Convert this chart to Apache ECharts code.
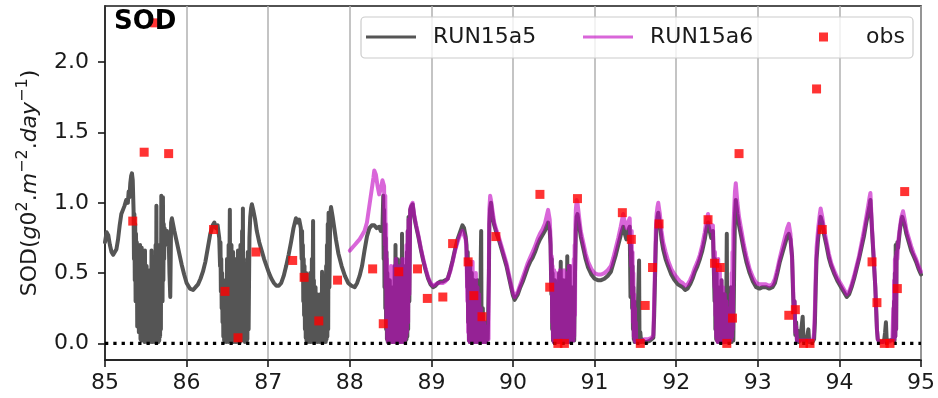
<!DOCTYPE html>
<html>
<head>
<meta charset="utf-8">
<script src="https://cdn.jsdelivr.net/npm/echarts@6/dist/echarts.min.js"></script>
<style>
  html, body { margin: 0; padding: 0; background: #ffffff; }
  #chart { width: 938px; height: 398px; }
</style>
</head>
<body>
<div id="chart"></div>
<script>
// Axis ticks
const xTicks = [85, 86, 87, 88, 89, 90, 91, 92, 93, 94, 95];
const yTicks = [0, 0.5, 1.0, 1.5, 2.0];

// Simulated sediment oxygen demand, run RUN15a5 [decimal year, value]
const run15a5 = [
  [85.00,0.72],[85.02,0.79],[85.04,0.77],[85.06,0.70],[85.08,0.65],[85.10,0.63],[85.12,0.64],[85.14,0.67],[85.16,0.74],[85.18,0.84],[85.20,0.92],[85.22,0.95],[85.24,0.98],[85.26,1.02],[85.28,1.00],[85.29,1.08],[85.30,1.04],[85.31,1.14],[85.32,1.19],[85.33,1.21],[85.34,1.16],
  [85.35,0.95],[85.355,0.60],[85.36,0.92],[85.365,0.45],[85.37,0.85],[85.375,0.30],[85.38,0.78],[85.385,0.35],[85.39,0.72],[85.395,0.12],[85.40,0.70],[85.405,0.25],[85.41,0.68],[85.415,0.08],[85.42,0.66],[85.425,0.15],[85.43,0.70],[85.435,0.03],[85.44,0.58],[85.445,0.02],[85.45,0.68],[85.455,0.05],[85.46,0.45],[85.465,0.02],[85.47,0.62],[85.475,0.03],[85.48,0.50],[85.485,0.01],[85.49,0.66],[85.495,0.04],[85.50,0.40],[85.505,0.02],[85.51,0.55],[85.515,0.01],[85.52,0.35],[85.525,0.02],[85.53,0.48],[85.535,0.03],[85.54,0.30],[85.545,0.01],[85.55,0.52],[85.555,0.02],[85.56,0.40],[85.565,0.01],[85.57,0.66],[85.575,0.03],[85.58,0.38],[85.585,0.01],[85.59,0.55],[85.595,0.02],[85.60,0.45],[85.605,0.01],[85.61,0.60],[85.615,0.03],[85.62,0.70],[85.625,0.02],[85.63,0.98],[85.635,0.05],[85.64,0.50],[85.645,0.02],[85.65,0.62],[85.655,0.01],[85.66,0.45],[85.665,0.02],[85.67,0.70],[85.675,0.05],[85.68,0.55],[85.685,0.10],[85.69,1.05],[85.695,0.35],[85.70,0.90],[85.705,0.30],[85.71,1.04],[85.715,0.45],[85.72,0.85],[85.725,0.60],[85.73,0.82],[85.74,0.78],[85.75,0.74],[85.76,0.80],[85.77,0.70],[85.78,0.76],[85.79,0.50],[85.80,0.33],[85.81,0.86],[85.82,0.89],
  [85.85,0.80],[85.88,0.72],[85.91,0.64],[85.94,0.56],[85.97,0.49],[86.00,0.43],[86.04,0.39],[86.08,0.38],[86.11,0.40],[86.14,0.42],[86.17,0.46],[86.20,0.51],[86.23,0.58],[86.26,0.68],[86.29,0.78],[86.32,0.84],[86.34,0.86],[86.36,0.82],[86.38,0.84],[86.40,0.75],
  [86.41,0.55],[86.415,0.72],[86.42,0.37],[86.425,0.60],[86.43,0.25],[86.435,0.50],[86.44,0.15],[86.445,0.45],[86.45,0.05],[86.455,0.35],[86.46,0.02],[86.465,0.30],[86.47,0.01],[86.475,0.45],[86.48,0.02],[86.485,0.25],[86.49,0.01],[86.495,0.60],[86.50,0.02],[86.505,0.40],[86.51,0.01],[86.515,0.70],[86.52,0.03],[86.525,0.55],[86.53,0.95],[86.535,0.04],[86.54,0.60],[86.545,0.02],[86.55,0.70],[86.555,0.01],[86.56,0.45],[86.565,0.02],[86.57,0.65],[86.575,0.01],[86.58,0.40],[86.585,0.02],[86.59,0.55],[86.595,0.01],[86.60,0.35],[86.605,0.02],[86.61,0.60],[86.615,0.01],[86.62,0.42],[86.625,0.02],[86.63,0.66],[86.635,0.01],[86.64,0.38],[86.645,0.02],[86.65,0.55],[86.655,0.01],[86.66,0.70],[86.665,0.03],[86.67,0.45],[86.675,0.02],[86.68,0.80],[86.685,0.04],[86.69,0.96],[86.695,0.05],[86.70,0.60],[86.705,0.02],[86.71,0.45],[86.715,0.01],[86.72,0.55],[86.725,0.02],[86.73,0.30],[86.735,0.01],[86.74,0.50],[86.745,0.03],[86.75,0.65],[86.76,0.10],[86.77,0.75],[86.78,0.90],[86.79,0.96],[86.80,0.99],
  [86.82,0.94],[86.84,0.88],[86.86,0.80],[86.89,0.72],[86.92,0.66],[86.95,0.60],[86.98,0.55],[87.01,0.50],[87.04,0.46],[87.07,0.43],[87.10,0.41],[87.13,0.41],[87.16,0.43],[87.19,0.48],[87.22,0.55],[87.25,0.63],[87.28,0.72],[87.31,0.82],[87.34,0.89],[87.36,0.86],[87.38,0.88],[87.40,0.82],
  [87.41,0.60],[87.415,0.80],[87.42,0.45],[87.425,0.70],[87.43,0.30],[87.435,0.60],[87.44,0.20],[87.445,0.55],[87.45,0.10],[87.455,0.45],[87.46,0.04],[87.465,0.50],[87.47,0.02],[87.475,0.35],[87.48,0.01],[87.485,0.30],[87.49,0.02],[87.495,0.45],[87.50,0.01],[87.505,0.25],[87.51,0.02],[87.515,0.50],[87.52,0.01],[87.525,0.35],[87.53,0.02],[87.535,0.60],[87.54,0.01],[87.545,0.40],[87.55,0.87],[87.555,0.03],[87.56,0.45],[87.565,0.01],[87.57,0.30],[87.575,0.02],[87.58,0.40],[87.585,0.01],[87.59,0.20],[87.595,0.02],[87.60,0.35],[87.605,0.01],[87.61,0.15],[87.615,0.02],[87.62,0.30],[87.625,0.01],[87.63,0.20],[87.635,0.02],[87.64,0.35],[87.645,0.01],[87.65,0.25],[87.655,0.02],[87.66,0.51],[87.665,0.01],[87.67,0.30],[87.675,0.02],[87.68,0.20],[87.685,0.01],[87.69,0.40],[87.695,0.02],[87.70,0.30],[87.705,0.01],[87.71,0.55],[87.715,0.03],[87.72,0.70],[87.725,0.05],[87.73,0.85],[87.735,0.10],[87.74,0.93],[87.75,0.40],[87.76,0.92],[87.77,0.97],
  [87.79,0.90],[87.81,0.82],[87.83,0.74],[87.86,0.64],[87.90,0.55],[87.94,0.48],[87.98,0.43],[88.02,0.41],[88.06,0.40],[88.09,0.43],[88.12,0.48],[88.15,0.55],[88.18,0.66],[88.21,0.76],[88.24,0.82],[88.27,0.84],[88.30,0.84],[88.33,0.82],[88.36,0.83],[88.38,0.80],[88.40,0.82],
  [88.41,1.05],[88.415,0.60],[88.42,0.95],[88.425,0.40],[88.43,0.85],[88.435,0.25],[88.44,0.75],[88.445,0.10],[88.45,0.65],[88.455,0.03],[88.46,0.50],[88.465,0.01],[88.47,0.40],[88.475,0.02],[88.48,0.30],[88.485,0.01],[88.49,0.45],[88.495,0.02],[88.50,0.25],[88.505,0.01],[88.51,0.35],[88.515,0.02],[88.52,0.20],[88.525,0.01],[88.53,0.40],[88.535,0.02],[88.54,0.30],[88.545,0.01],[88.55,0.55],[88.555,0.02],[88.56,0.70],[88.565,0.01],[88.57,0.45],[88.575,0.02],[88.58,0.60],[88.585,0.01],[88.59,0.35],[88.595,0.02],[88.60,0.50],[88.605,0.01],[88.61,0.30],[88.615,0.02],[88.62,0.45],[88.625,0.01],[88.63,0.60],[88.635,0.02],[88.64,0.78],[88.645,0.03],[88.65,0.40],[88.655,0.01],[88.66,0.50],[88.665,0.02],[88.67,0.35],[88.675,0.01],[88.68,0.55],[88.685,0.02],[88.69,0.45],[88.695,0.03],[88.70,0.65],[88.705,0.05],[88.71,0.80],[88.715,0.10],[88.72,0.90],[88.73,0.30],[88.74,0.95],[88.75,0.97],[88.77,0.99],
  [88.79,0.90],[88.81,0.84],[88.84,0.76],[88.87,0.67],[88.90,0.59],[88.93,0.52],[88.96,0.46],[88.99,0.42],[89.02,0.40],[89.05,0.41],[89.08,0.43],[89.11,0.44],[89.14,0.44],[89.17,0.45],[89.20,0.46],[89.23,0.52],[89.26,0.59],[89.29,0.67],[89.32,0.74],[89.35,0.79],[89.38,0.84],[89.40,0.82],[89.42,0.76],[89.43,0.70],
  [89.44,0.40],[89.445,0.65],[89.45,0.15],[89.455,0.55],[89.46,0.02],[89.465,0.45],[89.47,0.01],[89.475,0.58],[89.48,0.02],[89.485,0.35],[89.49,0.01],[89.495,0.50],[89.50,0.02],[89.505,0.40],[89.51,0.01],[89.515,0.30],[89.52,0.02],[89.525,0.45],[89.53,0.01],[89.535,0.25],[89.54,0.02],[89.545,0.38],[89.55,0.01],[89.555,0.20],[89.56,0.02],[89.565,0.45],[89.57,0.01],[89.575,0.30],[89.58,0.03],[89.585,0.25],[89.59,0.01],[89.595,0.35],[89.60,0.02],[89.605,0.60],[89.61,0.80],[89.615,0.02],[89.62,0.20],[89.625,0.01],[89.63,0.25],[89.635,0.02],[89.64,0.10],[89.645,0.01],[89.65,0.15],[89.655,0.02],[89.66,0.08],[89.665,0.01],[89.67,0.12],[89.675,0.02],[89.68,0.05],[89.69,0.03],[89.70,0.04],[89.705,0.50],[89.71,0.85],[89.72,0.96],[89.73,1.00],
  [89.75,0.90],[89.77,0.84],[89.80,0.78],[89.83,0.73],[89.86,0.67],[89.89,0.61],[89.92,0.55],[89.95,0.47],[89.98,0.39],[90.00,0.34],[90.02,0.31],[90.04,0.32],[90.06,0.35],[90.09,0.40],[90.12,0.44],[90.15,0.49],[90.18,0.54],[90.21,0.58],[90.24,0.61],[90.27,0.65],[90.30,0.70],[90.33,0.74],[90.36,0.77],[90.39,0.80],[90.41,0.83],[90.43,0.86],[90.45,0.80],[90.46,0.70],
  [90.47,0.35],[90.475,0.60],[90.48,0.10],[90.485,0.50],[90.49,0.02],[90.495,0.40],[90.50,0.01],[90.505,0.35],[90.51,0.02],[90.515,0.45],[90.52,0.01],[90.525,0.30],[90.53,0.02],[90.535,0.40],[90.54,0.01],[90.545,0.25],[90.55,0.02],[90.555,0.35],[90.56,0.01],[90.565,0.50],[90.57,0.02],[90.575,0.30],[90.58,0.01],[90.585,0.58],[90.59,0.02],[90.595,0.40],[90.60,0.01],[90.605,0.25],[90.61,0.02],[90.615,0.45],[90.62,0.01],[90.625,0.35],[90.63,0.02],[90.635,0.30],[90.64,0.01],[90.645,0.45],[90.65,0.02],[90.655,0.20],[90.66,0.01],[90.665,0.62],[90.67,0.02],[90.675,0.30],[90.68,0.01],[90.685,0.45],[90.69,0.02],[90.695,0.55],[90.70,0.01],[90.705,0.35],[90.71,0.02],[90.72,0.40],[90.73,0.05],[90.74,0.30],[90.75,0.02],[90.76,0.50],[90.77,0.80],[90.78,0.90],[90.79,0.92],
  [90.81,0.84],[90.83,0.76],[90.86,0.68],[90.89,0.60],[90.92,0.54],[90.96,0.49],[91.00,0.46],[91.04,0.45],[91.08,0.45],[91.12,0.46],[91.16,0.48],[91.20,0.51],[91.23,0.57],[91.26,0.63],[91.29,0.70],[91.32,0.77],[91.35,0.83],[91.37,0.78],[91.39,0.74],[91.41,0.80],[91.43,0.83],[91.44,0.33],[91.445,0.70],
  [91.45,0.45],[91.455,0.65],[91.46,0.25],[91.465,0.55],[91.47,0.10],[91.475,0.40],[91.48,0.03],[91.485,0.30],[91.49,0.01],[91.495,0.20],[91.50,0.02],[91.505,0.15],[91.51,0.01],[91.515,0.10],[91.52,0.02],[91.53,0.01],[91.54,0.03],[91.545,0.59],[91.55,0.02],[91.56,0.08],[91.57,0.01],[91.58,0.03],[91.60,0.01],[91.62,0.02],[91.64,0.01],[91.66,0.02],[91.68,0.02],[91.70,0.03],[91.72,0.04],[91.73,0.20],[91.74,0.45],[91.75,0.70],[91.76,0.85],[91.77,0.90],[91.78,0.93],
  [91.80,0.85],[91.82,0.74],[91.84,0.67],[91.87,0.60],[91.90,0.55],[91.94,0.49],[91.98,0.45],[92.02,0.42],[92.05,0.41],[92.08,0.40],[92.11,0.38],[92.14,0.39],[92.17,0.42],[92.20,0.46],[92.23,0.51],[92.26,0.55],[92.29,0.60],[92.32,0.66],[92.35,0.74],[92.37,0.81],[92.39,0.86],[92.41,0.80],[92.43,0.75],[92.45,0.80],[92.46,0.55],
  [92.47,0.30],[92.475,0.60],[92.48,0.10],[92.485,0.45],[92.49,0.03],[92.495,0.50],[92.50,0.02],[92.505,0.30],[92.51,0.01],[92.515,0.40],[92.52,0.02],[92.525,0.25],[92.53,0.01],[92.535,0.35],[92.54,0.02],[92.545,0.20],[92.55,0.01],[92.555,0.45],[92.56,0.02],[92.565,0.30],[92.57,0.01],[92.575,0.20],[92.58,0.02],[92.585,0.35],[92.59,0.01],[92.595,0.15],[92.60,0.02],[92.605,0.25],[92.61,0.01],[92.62,0.78],[92.625,0.02],[92.63,0.30],[92.64,0.01],[92.65,0.20],[92.66,0.02],[92.67,0.40],[92.68,0.01],[92.69,0.30],[92.70,0.02],[92.71,0.50],[92.72,0.90],[92.73,1.02],
  [92.75,0.92],[92.77,0.84],[92.80,0.75],[92.83,0.66],[92.86,0.58],[92.90,0.50],[92.94,0.44],[92.98,0.40],[93.02,0.39],[93.06,0.40],[93.10,0.40],[93.14,0.39],[93.18,0.40],[93.21,0.43],[93.24,0.50],[93.27,0.58],[93.30,0.64],[93.33,0.70],[93.36,0.76],[93.38,0.78],[93.40,0.74],[93.42,0.62],
  [93.43,0.40],[93.44,0.22],[93.45,0.30],[93.46,0.06],[93.47,0.15],[93.48,0.02],[93.49,0.09],[93.50,0.01],[93.52,0.03],[93.54,0.02],[93.55,0.19],[93.56,0.02],[93.58,0.01],[93.60,0.03],[93.62,0.10],[93.63,0.01],[93.65,0.02],[93.67,0.01],[93.69,0.03],[93.70,0.15],[93.71,0.40],[93.72,0.60],[93.74,0.75],[93.76,0.85],[93.77,0.90],
  [93.79,0.86],[93.81,0.78],[93.84,0.70],[93.87,0.61],[93.90,0.55],[93.94,0.49],[93.98,0.44],[94.02,0.40],[94.06,0.36],[94.09,0.33],[94.12,0.35],[94.15,0.40],[94.18,0.46],[94.21,0.53],[94.24,0.60],[94.27,0.68],[94.30,0.76],[94.33,0.86],[94.35,0.92],[94.37,0.98],[94.38,1.02],[94.40,0.80],[94.42,0.60],[94.44,0.40],
  [94.45,0.25],[94.46,0.10],[94.47,0.03],[94.49,0.01],[94.51,0.02],[94.53,0.01],[94.55,0.03],[94.56,0.08],[94.57,0.15],[94.58,0.02],[94.60,0.01],[94.62,0.02],[94.64,0.01],[94.66,0.03],[94.67,0.30],[94.675,0.02],[94.68,0.50],[94.685,0.05],[94.69,0.70],[94.695,0.10],[94.70,0.60],[94.71,0.72],[94.72,0.68],[94.74,0.80],[94.76,0.88],[94.77,0.90],
  [94.78,0.90],[94.80,0.84],[94.82,0.78],[94.85,0.72],[94.88,0.66],[94.91,0.62],[94.94,0.58],[94.97,0.53],[95.00,0.49]
];

// Simulated sediment oxygen demand, run RUN15a6 [decimal year, value]
const run15a6 = [
  [88.00,0.66],[88.03,0.68],[88.06,0.70],[88.09,0.72],[88.12,0.74],[88.15,0.77],[88.18,0.80],[88.21,0.86],[88.23,0.94],[88.25,1.02],[88.27,1.10],[88.29,1.18],[88.30,1.23],[88.32,1.20],[88.34,1.12],[88.36,1.06],[88.38,1.10],[88.40,1.16],[88.42,1.12],
  [88.43,0.70],[88.435,1.05],[88.44,0.40],[88.445,0.85],[88.45,0.15],[88.455,0.60],[88.46,0.03],[88.465,0.45],[88.47,0.01],[88.475,0.35],[88.48,0.01],[88.485,0.50],[88.49,0.02],[88.495,0.40],[88.50,0.01],[88.505,0.55],[88.51,0.02],[88.515,0.45],[88.52,0.01],[88.525,0.50],[88.53,0.02],[88.535,0.40],[88.54,0.01],[88.545,0.55],[88.55,0.02],[88.555,0.45],[88.56,0.01],[88.565,0.60],[88.57,0.02],[88.575,0.40],[88.58,0.01],[88.585,0.55],[88.59,0.02],[88.595,0.45],[88.60,0.01],[88.605,0.50],[88.61,0.02],[88.615,0.40],[88.62,0.01],[88.625,0.55],[88.63,0.02],[88.635,0.45],[88.64,0.01],[88.645,0.60],[88.65,0.02],[88.655,0.45],[88.66,0.01],[88.665,0.55],[88.67,0.02],[88.675,0.50],[88.68,0.03],[88.685,0.60],[88.69,0.05],[88.695,0.70],[88.70,0.08],[88.71,0.80],[88.715,0.15],[88.72,0.88],[88.73,0.35],[88.74,0.95],[88.75,0.98],[88.77,1.00],
  [88.79,0.91],[88.81,0.85],[88.84,0.77],[88.87,0.68],[88.90,0.60],[88.93,0.53],[88.96,0.47],[88.99,0.43],[89.02,0.41],[89.05,0.42],[89.08,0.43],[89.11,0.43],[89.14,0.43],[89.17,0.44],[89.20,0.46],[89.23,0.51],[89.26,0.58],[89.29,0.66],[89.32,0.72],[89.35,0.77],[89.38,0.80],[89.40,0.80],[89.42,0.74],[89.43,0.66],
  [89.44,0.30],[89.445,0.60],[89.45,0.08],[89.455,0.55],[89.46,0.02],[89.465,0.50],[89.47,0.01],[89.475,0.45],[89.48,0.02],[89.485,0.55],[89.49,0.01],[89.495,0.40],[89.50,0.02],[89.505,0.58],[89.51,0.01],[89.515,0.35],[89.52,0.02],[89.525,0.45],[89.53,0.01],[89.535,0.30],[89.54,0.02],[89.545,0.50],[89.55,0.01],[89.555,0.25],[89.56,0.02],[89.565,0.40],[89.57,0.01],[89.575,0.20],[89.58,0.02],[89.585,0.35],[89.59,0.01],[89.595,0.15],[89.60,0.02],[89.605,0.25],[89.61,0.01],[89.615,0.12],[89.62,0.02],[89.625,0.20],[89.63,0.01],[89.635,0.10],[89.64,0.02],[89.645,0.15],[89.65,0.01],[89.655,0.08],[89.66,0.02],[89.665,0.12],[89.67,0.01],[89.675,0.06],[89.68,0.02],[89.69,0.08],[89.70,0.03],[89.705,0.60],[89.71,0.95],[89.72,1.05],[89.73,1.02],
  [89.75,0.94],[89.77,0.86],[89.80,0.80],[89.83,0.75],[89.86,0.69],[89.89,0.63],[89.92,0.57],[89.95,0.49],[89.98,0.41],[90.00,0.36],[90.02,0.33],[90.04,0.34],[90.06,0.37],[90.09,0.42],[90.12,0.47],[90.15,0.52],[90.18,0.57],[90.21,0.61],[90.24,0.65],[90.27,0.69],[90.30,0.74],[90.33,0.78],[90.36,0.81],[90.39,0.85],[90.41,0.90],[90.43,0.95],[90.45,0.88],[90.46,0.75],
  [90.47,0.40],[90.475,0.62],[90.48,0.15],[90.485,0.55],[90.49,0.03],[90.495,0.48],[90.50,0.01],[90.505,0.52],[90.51,0.02],[90.515,0.40],[90.52,0.01],[90.525,0.50],[90.53,0.02],[90.535,0.35],[90.54,0.01],[90.545,0.48],[90.55,0.02],[90.555,0.30],[90.56,0.01],[90.565,0.45],[90.57,0.02],[90.575,0.52],[90.58,0.01],[90.585,0.38],[90.59,0.02],[90.595,0.50],[90.60,0.01],[90.605,0.30],[90.61,0.02],[90.615,0.45],[90.62,0.01],[90.625,0.52],[90.63,0.02],[90.635,0.35],[90.64,0.01],[90.645,0.48],[90.65,0.02],[90.655,0.30],[90.66,0.01],[90.665,0.50],[90.67,0.02],[90.675,0.40],[90.68,0.01],[90.685,0.55],[90.69,0.02],[90.695,0.45],[90.70,0.01],[90.705,0.50],[90.71,0.02],[90.715,0.40],[90.72,0.03],[90.725,0.55],[90.73,0.05],[90.735,0.45],[90.74,0.02],[90.745,0.60],[90.75,0.05],[90.755,0.70],[90.76,0.20],[90.765,0.85],[90.77,0.95],[90.78,1.02],
  [90.79,1.00],[90.81,0.90],[90.83,0.80],[90.86,0.72],[90.89,0.64],[90.92,0.58],[90.96,0.53],[91.00,0.50],[91.04,0.49],[91.08,0.49],[91.12,0.50],[91.16,0.52],[91.20,0.55],[91.23,0.61],[91.26,0.68],[91.29,0.75],[91.32,0.83],[91.35,0.92],[91.37,0.86],[91.39,0.82],[91.41,0.86],[91.43,0.89],[91.44,0.70],
  [91.45,0.55],[91.455,0.80],[91.46,0.35],[91.465,0.65],[91.47,0.15],[91.475,0.50],[91.48,0.05],[91.485,0.35],[91.49,0.02],[91.495,0.25],[91.50,0.01],[91.505,0.15],[91.51,0.02],[91.52,0.01],[91.53,0.02],[91.54,0.01],[91.55,0.02],[91.56,0.01],[91.58,0.02],[91.60,0.02],[91.62,0.03],[91.64,0.02],[91.66,0.03],[91.68,0.03],[91.70,0.04],[91.72,0.06],[91.73,0.30],[91.74,0.55],[91.75,0.80],[91.76,0.92],[91.77,0.97],[91.78,1.00],
  [91.80,0.92],[91.82,0.80],[91.84,0.72],[91.87,0.65],[91.90,0.59],[91.94,0.53],[91.98,0.49],[92.02,0.46],[92.05,0.44],[92.08,0.43],[92.11,0.41],[92.14,0.42],[92.17,0.45],[92.20,0.49],[92.23,0.54],[92.26,0.58],[92.29,0.63],[92.32,0.70],[92.35,0.79],[92.37,0.87],[92.39,0.92],[92.41,0.86],[92.43,0.80],[92.45,0.84],[92.46,0.60],
  [92.47,0.40],[92.475,0.65],[92.48,0.20],[92.485,0.58],[92.49,0.05],[92.495,0.55],[92.50,0.02],[92.505,0.45],[92.51,0.01],[92.515,0.60],[92.52,0.02],[92.525,0.40],[92.53,0.01],[92.535,0.55],[92.54,0.02],[92.545,0.35],[92.55,0.01],[92.555,0.45],[92.56,0.02],[92.565,0.30],[92.57,0.01],[92.575,0.40],[92.58,0.02],[92.585,0.25],[92.59,0.01],[92.595,0.35],[92.60,0.02],[92.605,0.20],[92.61,0.01],[92.615,0.30],[92.62,0.02],[92.625,0.15],[92.63,0.01],[92.635,0.25],[92.64,0.02],[92.645,0.10],[92.65,0.01],[92.66,0.20],[92.665,0.02],[92.67,0.35],[92.675,0.03],[92.68,0.50],[92.685,0.05],[92.69,0.65],[92.695,0.10],[92.70,0.80],[92.71,0.95],[92.72,1.08],[92.73,1.14],
  [92.75,1.00],[92.77,0.90],[92.80,0.80],[92.83,0.70],[92.86,0.62],[92.90,0.53],[92.94,0.47],[92.98,0.43],[93.02,0.42],[93.06,0.42],[93.10,0.42],[93.14,0.41],[93.18,0.42],[93.21,0.46],[93.24,0.53],[93.27,0.61],[93.30,0.68],[93.33,0.75],[93.36,0.82],[93.38,0.85],[93.40,0.78],[93.42,0.60],
  [93.43,0.45],[93.44,0.25],[93.45,0.30],[93.46,0.08],[93.47,0.12],[93.48,0.02],[93.50,0.01],[93.52,0.02],[93.54,0.01],[93.56,0.02],[93.58,0.01],[93.60,0.02],[93.62,0.01],[93.64,0.02],[93.66,0.01],[93.68,0.03],[93.69,0.08],[93.70,0.25],[93.71,0.50],[93.72,0.68],[93.74,0.82],[93.76,0.92],[93.77,0.96],
  [93.79,0.90],[93.81,0.82],[93.84,0.73],[93.87,0.64],[93.90,0.57],[93.94,0.51],[93.98,0.46],[94.02,0.42],[94.06,0.38],[94.09,0.35],[94.12,0.37],[94.15,0.42],[94.18,0.48],[94.21,0.55],[94.24,0.62],[94.27,0.71],[94.30,0.80],[94.33,0.90],[94.35,0.97],[94.37,1.04],[94.38,1.07],[94.40,0.82],[94.42,0.62],[94.44,0.40],
  [94.45,0.25],[94.46,0.10],[94.47,0.03],[94.49,0.01],[94.51,0.02],[94.53,0.01],[94.55,0.02],[94.57,0.01],[94.59,0.02],[94.61,0.01],[94.63,0.02],[94.65,0.03],[94.66,0.25],[94.665,0.02],[94.67,0.45],[94.675,0.03],[94.68,0.60],[94.685,0.05],[94.69,0.62],[94.695,0.10],[94.70,0.65],[94.71,0.60],[94.72,0.72],[94.74,0.82],[94.76,0.90],[94.78,0.94],
  [94.80,0.88],[94.82,0.81],[94.85,0.75],[94.88,0.69],[94.91,0.64],[94.94,0.60],[94.97,0.55],[95.00,0.51]
];

// Observed sediment oxygen demand [decimal year, value]
const obs = [
  [85.34,0.87],[85.48,1.36],[85.61,2.28],[85.78,1.35],
  [86.33,0.81],[86.47,0.37],[86.63,0.04],[86.85,0.65],
  [87.30,0.59],[87.44,0.47],[87.62,0.16],[87.85,0.45],
  [88.28,0.53],[88.41,0.14],[88.60,0.51],[88.83,0.53],[88.95,0.32],
  [89.14,0.33],[89.26,0.71],[89.45,0.58],[89.52,0.34],[89.62,0.19],[89.79,0.76],
  [90.33,1.06],[90.45,0.40],[90.55,0.00],[90.63,0.00],[90.79,1.03],
  [91.34,0.93],[91.45,0.74],[91.56,0.00],[91.62,0.27],[91.71,0.54],[91.79,0.85],
  [92.39,0.88],[92.47,0.57],[92.54,0.54],[92.62,0.00],[92.69,0.18],[92.77,1.35],
  [93.38,0.20],[93.46,0.24],[93.56,0.00],[93.64,0.00],[93.72,1.81],[93.79,0.81],
  [94.40,0.58],[94.46,0.29],[94.55,0.00],[94.62,0.00],[94.71,0.39],[94.80,1.08]
];

// Reference level at zero
const zeroLine = [[85, 0], [95, 0]];

const FONT = 'DejaVu Sans';
const INK = '#1a1a1a';
const GRAY_RUN = '#555555';
const MAGENTA_RUN = 'rgba(191, 0, 191, 0.6)';
const OBS_RED = '#ff0000';

const chart = echarts.init(document.getElementById('chart'), null, { renderer: 'canvas' });

const legendText = { fontFamily: FONT, fontSize: 22, color: INK, padding: [0, 0, 0, 12] };

chart.setOption({
  animation: false,
  backgroundColor: '#ffffff',
  title: {
    text: 'SOD',
    left: 114,
    top: 9,
    padding: 0,
    textStyle: { fontFamily: FONT, fontSize: 26, fontWeight: 'bold', color: '#000000' }
  },
  grid: {
    left: 105, right: 16, top: 6, bottom: 38,
    show: true, borderColor: INK, borderWidth: 1.6, backgroundColor: 'transparent'
  },
  xAxis: {
    type: 'value', min: xTicks[0], max: xTicks[xTicks.length - 1], interval: 1,
    axisLine: { show: true, onZero: false, lineStyle: { color: INK, width: 1.6 } },
    axisTick: { show: true, length: 7, lineStyle: { color: INK, width: 1.6 } },
    axisLabel: { fontFamily: FONT, fontSize: 22, color: INK, margin: 12 },
    splitLine: { show: true, lineStyle: { color: '#b0b0b0', width: 1.5 } }
  },
  yAxis: {
    type: 'value', min: -0.118, max: 2.4,
    axisLine: { show: true, lineStyle: { color: INK, width: 1.6 } },
    axisTick: { show: true, length: 7, customValues: yTicks, lineStyle: { color: INK, width: 1.6 } },
    axisLabel: {
      customValues: yTicks, fontFamily: FONT, fontSize: 22, color: INK, margin: 16,
      formatter: v => Number(v).toFixed(1)
    },
    splitLine: { show: false }
  },
  legend: [
    {
      data: [{ name: 'RUN15a5', icon: 'path://M0,0h50v3h-50z' }],
      left: 366, top: 26, padding: 0, itemWidth: 50, itemHeight: 14,
      itemStyle: { borderWidth: 0 }, textStyle: legendText, selectedMode: false, z: 10
    },
    {
      data: [{ name: 'RUN15a6', icon: 'path://M0,0h50v3h-50z' }],
      left: 583, top: 26, padding: 0, itemWidth: 50, itemHeight: 14,
      itemStyle: { borderWidth: 0 }, textStyle: legendText, selectedMode: false, z: 10
    },
    {
      data: [{ name: 'obs', icon: 'path://M0,0h10v10h-10z' }],
      left: 819, top: 26, padding: 0, itemWidth: 9, itemHeight: 9,
      itemStyle: { borderWidth: 0 },
      textStyle: { fontFamily: FONT, fontSize: 22, color: INK, padding: [0, 0, 0, 33] },
      selectedMode: false, z: 10
    }
  ],
  graphic: [
    {
      type: 'rect', z: 8, silent: true,
      shape: { x: 361, y: 17, width: 552, height: 41, r: 4 },
      style: { fill: 'rgba(255,255,255,0.8)', stroke: '#cccccc', lineWidth: 1.2 }
    },
    {
      type: 'text', z: 8, silent: true,
      x: 30, y: 183, rotation: Math.PI / 2,
      style: {
        text: '{n|SOD(}{i|g}{n|0}{s|2}{n|.}{i|m}{s|−2}{n|.}{i|day}{s|−1}{n|)}',
        align: 'center', verticalAlign: 'middle',
        rich: {
          n: { fontFamily: FONT, fontSize: 22, fill: INK, lineHeight: 30 },
          i: { fontFamily: FONT, fontSize: 22, fontStyle: 'italic', fill: INK, lineHeight: 30 },
          s: { fontFamily: FONT, fontSize: 16, fill: INK, verticalAlign: 'top', lineHeight: 30 }
        }
      }
    }
  ],
  series: [
    {
      name: 'RUN15a5', type: 'line', data: run15a5, z: 2,
      symbol: 'none', showSymbol: false, sampling: 'none',
      itemStyle: { color: GRAY_RUN },
      lineStyle: { color: GRAY_RUN, width: 4, join: 'round', cap: 'round' }
    },
    {
      name: 'RUN15a6', type: 'line', data: run15a6, z: 3,
      symbol: 'none', showSymbol: false, sampling: 'none',
      itemStyle: { color: MAGENTA_RUN },
      lineStyle: { color: MAGENTA_RUN, width: 4, join: 'round', cap: 'round' }
    },
    {
      name: 'zero', type: 'line', data: zeroLine, z: 4,
      symbol: 'none', showSymbol: false, silent: true,
      lineStyle: { color: '#000000', width: 3.3, type: [3.3, 5], cap: 'butt' }
    },
    {
      name: 'obs', type: 'scatter', data: obs, z: 5,
      symbol: 'rect', symbolSize: 9,
      itemStyle: { color: OBS_RED }
    }
  ]
});
</script>
</body>
</html>
